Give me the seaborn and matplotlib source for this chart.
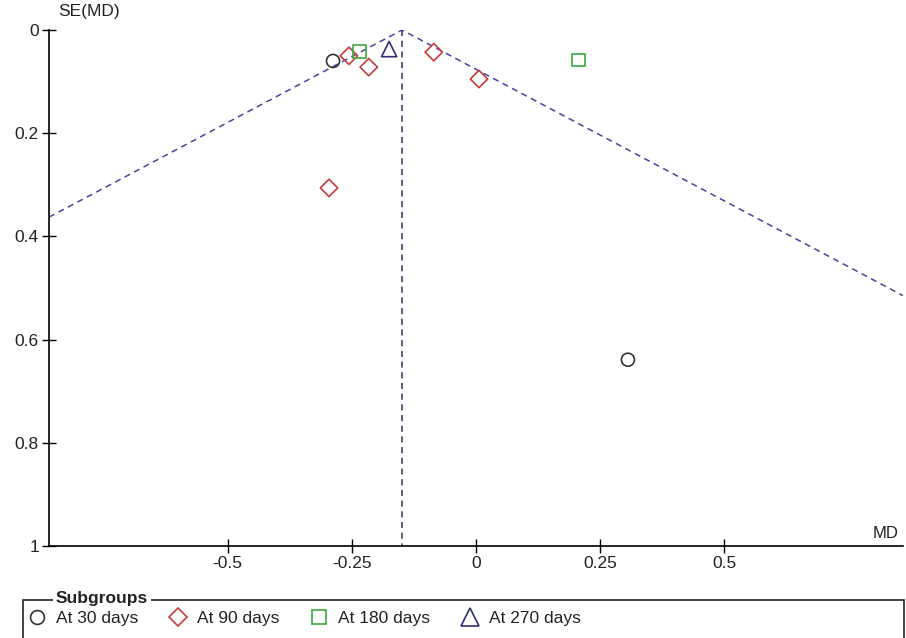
import matplotlib
matplotlib.use("Agg")
import matplotlib.pyplot as plt
import seaborn as sns
from matplotlib.lines import Line2D
from matplotlib.patches import Rectangle

# study estimates
groups = ["At 30 days", "At 90 days", "At 180 days", "At 270 days"]
md_30 = [-0.288, 0.306]
se_30 = [0.060, 0.639]
md_90 = [-0.256, -0.216, -0.296, -0.085, 0.006]
se_90 = [0.050, 0.072, 0.306, 0.043, 0.095]
md_180 = [-0.234, 0.207]
se_180 = [0.041, 0.058]
md_270 = [-0.175]
se_270 = [0.037]

pooled_md = -0.149
xticks = [-0.5, -0.25, 0, 0.25, 0.5]
xtick_labels = ["-0.5", "-0.25", "0", "0.25", "0.5"]
yticks = [0, 0.2, 0.4, 0.6, 0.8, 1]
ytick_labels = ["0", "0.2", "0.4", "0.6", "0.8", "1"]

sns.set_style("white")
plt.rcParams["font.family"] = ["Liberation Sans", "DejaVu Sans"]
plt.rcParams["font.size"] = 12.5
plt.rcParams["text.color"] = "#222222"

fig = plt.figure(figsize=(9.06, 6.38), dpi=100)
ax = fig.add_axes([49 / 906, 1 - 546 / 638, 854 / 906, 516 / 638])

funnel_col = "#45459e"
xmin, xmax = -0.86, 0.86
# funnel: pooled estimate +/- 1.96 SE
se_left = (pooled_md - xmin) / 1.96
se_right = (xmax - pooled_md) / 1.96
ax.plot([xmin, pooled_md, xmax], [se_left, 0, se_right], ls=(0, (4, 3)),
        color=funnel_col, lw=1.1, zorder=1)
ax.plot([pooled_md, pooled_md], [0, 1], ls=(0, (4, 3)), color="#30305a",
        lw=1.1, zorder=1)

styles = [
    (md_30, se_30, "o", "#333333", 88),
    (md_90, se_90, "D", "#c43c3c", 78),
    (md_180, se_180, "s", "#3aa83a", 85),
    (md_270, se_270, "^", "#2f2f70", 120),
]
for (xs, ys, mk, col, size), name in zip(styles, groups):
    sns.scatterplot(x=xs, y=ys, marker=mk, s=size, color=col,
                    facecolor="none", edgecolor=col, linewidth=1.2,
                    ax=ax, zorder=3, legend=False)

ax.set_xlim(xmin, xmax)
ax.set_ylim(1, 0)
ax.set_xticks(xticks)
ax.set_xticklabels(xtick_labels)
ax.set_yticks(yticks)
ax.set_yticklabels(ytick_labels)
ax.tick_params(bottom=True, left=True, direction="inout", length=9.5,
               width=1, color="black", labelsize=12.5, labelcolor="#222222",
               pad=2.5)
for side in ["top", "right"]:
    ax.spines[side].set_visible(False)
for side in ["left", "bottom"]:
    ax.spines[side].set_color("black")
    ax.spines[side].set_linewidth(1.2)
ax.set_xlabel("")
ax.set_ylabel("")
fig.text(58 / 906, 1 - 16 / 638, "SE(MD)", fontsize=12.5, va="baseline",
         ha="left")
fig.text(898 / 906, 1 - 538 / 638, "MD", fontsize=12, va="baseline",
         ha="right")

# legend box with title sitting on its top border
fig.patches.append(Rectangle((23 / 906, -0.02), 881 / 906, 0.02 + 38 / 638,
                             transform=fig.transFigure, fill=False,
                             edgecolor="#222222", lw=1.2))
fig.text(56 / 906, 40 / 638, "Subgroups", fontsize=12.5, weight="bold",
         va="center", ha="left",
         bbox=dict(facecolor="white", edgecolor="none", pad=2))
handles = [Line2D([], [], ls="none", marker=mk, markersize=ms,
                  markerfacecolor="none", markeredgecolor=col,
                  markeredgewidth=1.2)
           for (_, _, mk, col, _), ms in zip(styles, [10, 9.5, 9.8, 13])]
fig.legend(handles, groups, loc="center left",
           bbox_to_anchor=(28 / 906, 20 / 638), ncol=4, frameon=False,
           fontsize=12.5, handlelength=1.0, handletextpad=0.6,
           columnspacing=1.8, borderaxespad=0, borderpad=0)

fig.savefig("out.png", dpi=100)
